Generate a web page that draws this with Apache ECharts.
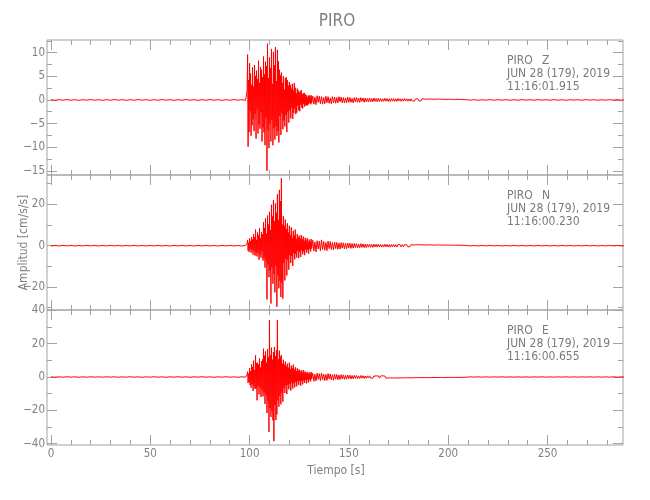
<!DOCTYPE html>
<html><head><meta charset="utf-8">
<script src="https://cdn.jsdelivr.net/npm/echarts@6/dist/echarts.min.js"></script>
<style>html,body{margin:0;padding:0;background:#fff}#c{width:650px;height:500px}</style>
</head><body><div id="c"></div>
<script>
// ---------- texts ----------
const titleText = 'PIRO';
const station = 'PIRO';
const components = ['Z', 'N', 'E'];
const dateLabel = 'JUN 28 (179), 2019';
const startTimes = ['11:16:01.915', '11:16:00.230', '11:16:00.655'];
const xAxisName = 'Tiempo [s]';
const yAxisName = 'Amplitud [cm/s/s]';

// ---------- axes / ticks ----------
const X_MIN = -2, X_MAX = 288;
const xMajorTicks = [0, 50, 100, 150, 200, 250];
const xMinorTicks = [10, 20, 30, 40, 60, 70, 80, 90, 110, 120, 130, 140, 160, 170, 180, 190, 210, 220, 230, 240, 260, 270, 280];
const zRange = [-15.9, 12.7];
const zYMajor = [-15, -10, -5, 0, 5, 10];
const zYMinor = [-12.5, -7.5, -2.5, 2.5, 7.5, 12.5];
const nRange = [-31.1, 34.2];
const nYMajor = [-20, 0, 20];
const nYMinor = [-30, -10, 10, 30];
const eRange = [-40.8, 40.2];
const eYMajor = [-40, -20, 0, 20, 40];
const eYMinor = [-30, -10, 10, 30];

// ---------- sampling of the traces (s) ----------
const preT0 = 0, preDt = 2;         // quiet part before the onset (0..98 s)
const mainT0 = 98.5, mainDt = 0.25; // strong motion (98.5..131.25 s)
const codaDt = 0.55;                // coda
const midDt = 0.55;                 // late coda
const farDt = 2;                    // end of record

// ---------- Z component (cm/s/s) ----------
const zPre = [
 0.05,-0.08,0.06,-0.05,0.08,-0.06,0.05,-0.08,0.06,-0.05,
 0.08,-0.06,0.05,-0.08,0.06,-0.06,0.08,-0.05,0.06,-0.08,
 0.05,-0.06,0.08,-0.05,0.06,-0.08,0.05,-0.06,0.08,-0.05,
 0.06,-0.08,0.05,-0.06,0.08,-0.05,0.06,-0.08,0.05,-0.06,
 0.08,-0.05,0.06,-0.08,0.05,-0.06,0.08,-0.05,0.06,-0.08];
const zMain = [
 0.1,2.0,9.6,-9.9,4.2,-6.8,7.8,-2.4,5.6,-7.6,3.2,-5.4,
 6.9,-4.1,2.8,-6.6,7.4,-3.0,5.1,-8.2,6.2,-1.8,4.4,-7.1,
 8.3,-5.2,3.6,-6.1,7.0,-2.6,6.4,-8.8,4.8,-5.8,9.2,-6.9,
 5.4,-9.6,8.1,-3.8,7.2,-15.0,11.9,-6.4,4.6,-10.2,9.0,-5.0,
 6.8,-8.8,10.8,-4.2,3.4,-9.6,10.2,-6.0,7.4,-8.4,11.2,-5.6,
 4.0,-7.6,10.6,-6.6,8.2,-9.0,6.4,-3.4,5.2,-7.4,5.8,-2.8,
 3.6,-6.2,5.0,-4.4,2.2,-5.6,4.6,-3.2,4.8,-6.8,4.2,-2.6,
 3.0,-4.8,3.8,-2.2,3.2,-3.9,2.4,-1.6,3.4,-4.0,2.0,-2.8,
 3.6,-1.8,2.6,-3.0,1.4,-2.7,2.4,-1.2,2.0,-2.2,1.6,-2.4,
 1.8,-1.0,2.1,-1.6,1.2,-1.8,1.4,-0.8,1.5,-1.4,1.2,-1.1,
 1.0,-1.2,0.6,-1.1,0.9,-0.9,1.0,-0.6,0.8,-0.9,1.0,-0.7];
const zCoda = [
 0.8,-0.9,0.6,-1.0,0.9,-0.5,0.8,-0.8,0.7,-0.9,
 0.5,-0.8,0.8,-0.6,0.7,-0.7,0.4,-0.8,0.7,-0.6,
 0.6,-0.7,0.5,-0.6,0.7,-0.4,0.6,-0.6,0.5,-0.6,
 0.4,-0.6,0.6,-0.5,0.5,-0.5,0.3,-0.6,0.5,-0.4,
 0.5,-0.5,0.4,-0.5,0.5,-0.3,0.4,-0.5,0.4,-0.4,
 0.3,-0.4,0.4,-0.4,0.3,-0.4,0.4,-0.3,0.3,-0.4];
const zMid = [
 0.35,-0.3,0.3,-0.35,0.25,-0.3,0.35,-0.25,0.3,-0.3,0.25,-0.35,0.3,
 -0.25,0.3,-0.3,0.25,-0.3,0.3,-0.2,0.25,-0.3,0.25,-0.25,0.3,-0.2,
 0.25,-0.25,0.2,-0.25,0.25,-0.2,0.2,-0.25,0.2,-0.2,0.25,-0.2,0.2,
 -0.2,0.25,-0.15,0.2,-0.2,0.15,-0.2,0.2,-0.15,0.2,-0.2,0.15,-0.2,
 0.15,-0.15,0.2,-0.15,0.15,-0.2,0.15,-0.15,0.15,-0.15,0.1,-0.15,0.15,
 -0.1,0.15,-0.15,0.1,-0.15,0.1,-0.1,0.15,-0.1,0.1,-0.15,0.1,-0.1];
const zFar = [
 0.06,-0.05,0.05,-0.06,0.04,-0.05,0.06,-0.05,0.05,-0.04,
 0.05,-0.06,0.04,-0.05,0.06,-0.04,0.05,-0.05,0.06,-0.04,
 0.04,-0.05,0.06,-0.05,0.04,-0.06,0.05,-0.04,0.05,-0.05,
 0.06,-0.04,0.05,-0.06,0.04,-0.05,0.05,-0.04,0.06,-0.05,
 0.04,-0.05,0.05,-0.04];

// ---------- N component ----------
const nPre = [
 -0.15,0.1,-0.12,0.15,-0.1,0.12,-0.15,0.1,-0.12,0.15,
 -0.1,0.12,-0.15,0.1,-0.12,0.15,-0.1,0.1,-0.15,0.12,
 -0.1,0.15,-0.12,0.1,-0.15,0.12,-0.1,0.15,-0.12,0.1,
 -0.15,0.12,-0.1,0.15,-0.12,0.1,-0.15,0.12,-0.1,0.15,
 -0.12,0.1,-0.15,0.12,-0.1,0.15,-0.12,0.1,-0.15,0.12];
const nMain = [
 0.1,1.2,2.8,-2.4,1.4,-3.0,3.6,-1.6,2.2,-3.4,4.2,-2.0,
 3.0,-4.4,5.6,-2.6,4.0,-4.8,7.8,-3.6,2.8,-5.2,6.4,-3.2,
 5.0,-6.8,8.4,-4.4,3.6,-5.8,6.6,-2.8,5.4,-7.2,11.4,-6.0,
 8.6,-10.6,13.2,-7.4,5.8,-26.0,14.6,-9.0,10.2,-15.2,16.4,-12.0,
 7.6,-28.0,19.8,-10.4,14.2,-18.4,22.0,-13.6,11.8,-22.6,20.4,-9.8,
 16.0,-29.5,24.8,-14.2,12.4,-20.6,27.0,-17.0,21.6,-24.8,32.6,-18.0,
 10.2,-25.6,14.2,-8.4,9.6,-16.8,12.6,-6.2,8.0,-14.4,10.8,-7.0,
 6.4,-11.6,9.6,-4.6,5.2,-8.4,8.8,-5.0,3.8,-9.8,7.2,-3.6,
 5.0,-6.6,7.8,-4.0,3.2,-5.8,5.6,-2.6,4.0,-6.0,4.8,-3.0,
 3.4,-5.4,5.2,-2.2,3.0,-4.2,4.4,-2.8,2.4,-4.6,3.8,-1.8,
 2.6,-3.4,3.6,-2.0,1.8,-3.8,3.0,-1.6,2.2,-2.8,3.2,-1.4];
const nCoda = [
 2.6,-2.6,1.8,-3.0,2.4,-1.6,2.2,-2.4,2.8,-1.8,
 2.0,-2.2,1.6,-2.4,2.2,-1.4,2.0,-1.8,1.5,-2.0,
 1.8,-1.4,1.6,-1.7,1.3,-1.6,1.5,-1.2,1.4,-1.5,
 1.1,-1.4,1.3,-1.0,1.2,-1.3,1.0,-1.2,1.1,-0.9,
 1.0,-1.1,0.8,-1.0,1.0,-0.8,0.9,-0.9,0.7,-0.9,
 0.8,-0.7,0.8,-0.8,0.6,-0.8,0.7,-0.6,0.7,-0.7];
const nMid = [
 0.7,-0.6,0.6,-0.7,0.5,-0.6,0.7,-0.5,0.6,-0.6,0.5,-0.7,0.6,
 -0.5,0.6,-0.6,0.5,-0.6,0.5,-0.4,0.5,-0.6,0.5,-0.5,0.5,-0.4,
 0.5,-0.5,0.4,-0.5,0.5,-0.4,0.4,-0.5,0.4,-0.4,0.5,-0.4,0.4,
 -0.4,0.4,-0.3,0.4,-0.4,0.3,-0.4,0.4,-0.3,0.4,-0.3,0.3,-0.4,
 0.3,-0.3,0.4,-0.3,0.3,-0.3,0.3,-0.3,0.3,-0.25,0.3,-0.3,0.25,
 -0.25,0.3,-0.25,0.2,-0.25,0.25,-0.2,0.25,-0.2,0.2,-0.25,0.2,-0.2];
const nFar = [
 0.12,-0.1,0.08,-0.12,0.1,-0.08,0.12,-0.1,0.1,-0.12,
 0.08,-0.1,0.12,-0.08,0.1,-0.12,0.08,-0.1,0.12,-0.08,
 0.1,-0.12,0.08,-0.1,0.12,-0.08,0.1,-0.12,0.08,-0.1,
 0.12,-0.08,0.1,-0.12,0.08,-0.1,0.12,-0.08,0.1,-0.12,
 0.08,-0.1,0.12,-0.08];

// ---------- E component ----------
const ePre = [
 0.12,-0.15,0.1,-0.12,0.15,-0.1,0.12,-0.15,0.1,-0.12,
 0.15,-0.1,0.12,-0.12,0.15,-0.1,0.12,-0.15,0.1,-0.12,
 0.15,-0.12,0.1,-0.15,0.12,-0.1,0.15,-0.12,0.1,-0.15,
 0.12,-0.1,0.15,-0.12,0.1,-0.15,0.12,-0.1,0.15,-0.12,
 0.1,-0.15,0.12,-0.1,0.15,-0.12,0.1,-0.15,0.12,-0.1];
const eMain = [
 0.2,1.6,3.2,-3.6,2.0,-2.8,5.4,-4.8,3.4,-6.4,7.6,-4.2,
 6.0,-8.4,9.8,-5.6,4.2,-7.2,13.0,-6.8,8.2,-14.0,8.6,-5.0,
 7.4,-10.4,11.2,-6.2,5.6,-12.0,9.4,-7.8,10.6,-11.6,17.0,-9.2,
 12.8,-16.2,15.4,-10.6,8.6,-21.6,16.8,-14.4,11.8,-33.0,34.0,-18.6,
 13.0,-24.0,17.6,-20.2,10.4,-26.0,15.0,-38.5,18.0,-16.8,12.6,-25.8,
 16.2,-22.4,34.2,-14.0,10.6,-17.8,15.8,-11.4,12.2,-16.4,13.2,-9.4,
 8.0,-14.8,10.4,-6.6,7.4,-9.6,9.2,-5.2,6.4,-10.2,8.0,-4.8,
 5.6,-7.4,8.6,-4.2,4.8,-8.2,6.8,-3.6,5.2,-7.0,7.4,-3.8,
 4.4,-6.2,5.8,-3.0,3.6,-5.6,5.2,-2.6,3.8,-4.8,4.6,-2.4,
 3.2,-5.2,4.0,-2.2,2.8,-4.4,4.2,-2.0,2.6,-3.6,3.4,-1.8,
 2.4,-3.8,3.0,-1.6,2.0,-3.2,2.8,-1.4,2.2,-2.6,3.0,-1.2];
const eCoda = [
 2.2,-2.6,1.6,-2.4,2.4,-1.4,2.0,-2.2,2.4,-1.6,
 1.8,-2.2,1.5,-2.0,2.0,-1.2,1.8,-1.7,1.4,-1.9,
 1.6,-1.3,1.5,-1.6,1.2,-1.5,1.4,-1.1,1.3,-1.4,
 1.0,-1.3,1.2,-0.9,1.1,-1.2,0.9,-1.1,1.0,-0.8,
 0.9,-1.0,0.7,-0.9,0.9,-0.7,0.8,-0.8,0.6,-0.8,
 0.7,-0.6,0.7,-0.7,0.5,-0.7,0.6,-0.5,0.6,-0.6];
const eMid = [
 0.7,-0.7,0.6,-0.6,0.7,-0.5,0.6,-0.7,0.5,-0.6,0.6,-0.5,0.7,
 -0.6,0.5,-0.6,0.6,-0.5,0.5,-0.6,0.4,-0.5,0.6,-0.5,0.4,-0.5,
 0.5,-0.4,0.5,-0.5,0.4,-0.5,0.5,-0.4,0.4,-0.4,0.5,-0.3,0.4,
 -0.4,0.4,-0.4,0.3,-0.4,0.4,-0.3,0.3,-0.4,0.4,-0.3,0.3,-0.3,
 0.3,-0.3,0.3,-0.3,0.3,-0.25,0.3,-0.3,0.25,-0.3,0.25,-0.25,0.3,
 -0.2,0.25,-0.25,0.2,-0.25,0.25,-0.2,0.2,-0.25,0.2,-0.2,0.25,-0.2];
const eFar = [
 -0.12,0.1,-0.08,0.12,-0.1,0.08,-0.12,0.1,-0.08,0.12,
 -0.1,0.08,-0.12,0.1,-0.1,0.08,-0.12,0.1,-0.08,0.12,
 -0.1,0.08,-0.12,0.1,-0.08,0.12,-0.1,0.08,-0.12,0.1,
 -0.08,0.12,-0.1,0.08,-0.12,0.1,-0.08,0.12,-0.1,0.08,
 -0.12,0.1,-0.08,0.12];

function buildTrace(pre, main, coda, mid, far) {
  const pts = [];
  pre.forEach((v, i) => pts.push([preT0 + i * preDt, v]));
  let t = mainT0;
  [[main, mainDt], [coda, codaDt], [mid, midDt], [far, farDt]].forEach(([arr, dt], k) => {
    if (k > 0) t += dt;
    arr.forEach((v, i) => pts.push([t + i * dt, v]));
    t += (arr.length - 1) * dt;
  });
  return pts;
}

const panels = [
  { data: buildTrace(zPre, zMain, zCoda, zMid, zFar), range: zRange, major: zYMajor, minor: zYMinor },
  { data: buildTrace(nPre, nMain, nCoda, nMid, nFar), range: nRange, major: nYMajor, minor: nYMinor },
  { data: buildTrace(ePre, eMain, eCoda, eMid, eFar), range: eRange, major: eYMajor, minor: eYMinor }
];

// ---------- styling / layout ----------
const AX = '#a3a3a3', TX = '#808080', TX2 = '#7a7a7a', RED = '#ff0000';
const FONT = '"Liberation Sans Narrow","DejaVu Sans Condensed","Liberation Sans",sans-serif';
const GL = 47, GW = 576, GT = 40, GH = 135;
const fmt = v => String(v).replace('-', '\u2212');

const grids = [], xAxes = [], yAxes = [], series = [], graphics = [];
panels.forEach((p, i) => {
  const top = GT + i * GH;
  grids.push({ left: GL, top: top, width: GW, height: GH, show: true, borderColor: AX, borderWidth: 1,
               containLabel: false, outerBoundsMode: 'none' });
  const tickStyle = { color: AX, width: 1 };
  const xa = xAxes.length;
  [['bottom', xMajorTicks, 10, i === 2], ['bottom', xMinorTicks, 5, false],
   ['top', xMajorTicks, 10, false], ['top', xMinorTicks, 5, false]].forEach(([pos, vals, len, lab]) => {
    xAxes.push({ type: 'value', gridIndex: i, min: X_MIN, max: X_MAX, position: pos,
      axisLine: { show: false, onZero: false }, splitLine: { show: false },
      axisTick: { show: true, inside: true, length: len, customValues: vals, lineStyle: tickStyle },
      axisLabel: { show: lab, customValues: vals, color: TX, fontSize: 11.5, fontFamily: FONT, margin: 3, formatter: fmt } });
  });
  const ya = yAxes.length;
  [['left', p.major, 10, true], ['left', p.minor, 5, false],
   ['right', p.major, 10, false], ['right', p.minor, 5, false]].forEach(([pos, vals, len, lab]) => {
    yAxes.push({ type: 'value', gridIndex: i, min: p.range[0], max: p.range[1], position: pos,
      axisLine: { show: false, onZero: false }, splitLine: { show: false },
      axisTick: { show: true, inside: true, length: len, customValues: vals, lineStyle: tickStyle },
      axisLabel: { show: lab, customValues: vals, color: TX, fontSize: 11.5, fontFamily: FONT, margin: 2, formatter: fmt } });
  });
  series.push({ type: 'line', xAxisIndex: xa, yAxisIndex: ya, data: p.data, symbol: 'none', showSymbol: false,
    lineStyle: { color: RED, width: 1 }, animation: false, silent: true, z: 5, clip: true });

  const lines = [[station, 20.8], [dateLabel, 34.3], [startTimes[i], 47]];
  lines.forEach(([txt, dy]) => {
    graphics.push({ type: 'text', x: 507, y: top + dy, z: 10,
      style: { text: txt, fill: TX2, font: '12px ' + FONT, textAlign: 'left', textVerticalAlign: 'middle' } });
  });
  graphics.push({ type: 'text', x: 542, y: top + 20.8, z: 10,
    style: { text: components[i], fill: TX2, font: '12px ' + FONT, textAlign: 'left', textVerticalAlign: 'middle' } });
});

graphics.push({ type: 'text', x: 337, y: 22, z: 10,
  style: { text: titleText, fill: TX, font: '17px ' + FONT, textAlign: 'center', textVerticalAlign: 'middle' } });
graphics.push({ type: 'text', x: 336, y: 471, z: 10,
  style: { text: xAxisName, fill: TX, font: '12px ' + FONT, textAlign: 'center', textVerticalAlign: 'middle' } });
graphics.push({ type: 'text', x: 23.5, y: 242.5, rotation: Math.PI / 2, z: 10,
  style: { text: yAxisName, fill: TX, font: '12px ' + FONT, textAlign: 'center', textVerticalAlign: 'middle' } });

const chart = echarts.init(document.getElementById('c'), null, { renderer: 'canvas' });
chart.setOption({
  animation: false,
  backgroundColor: '#ffffff',
  textStyle: { fontFamily: FONT },
  grid: grids, xAxis: xAxes, yAxis: yAxes, series: series, graphic: graphics
});
</script></body></html>
